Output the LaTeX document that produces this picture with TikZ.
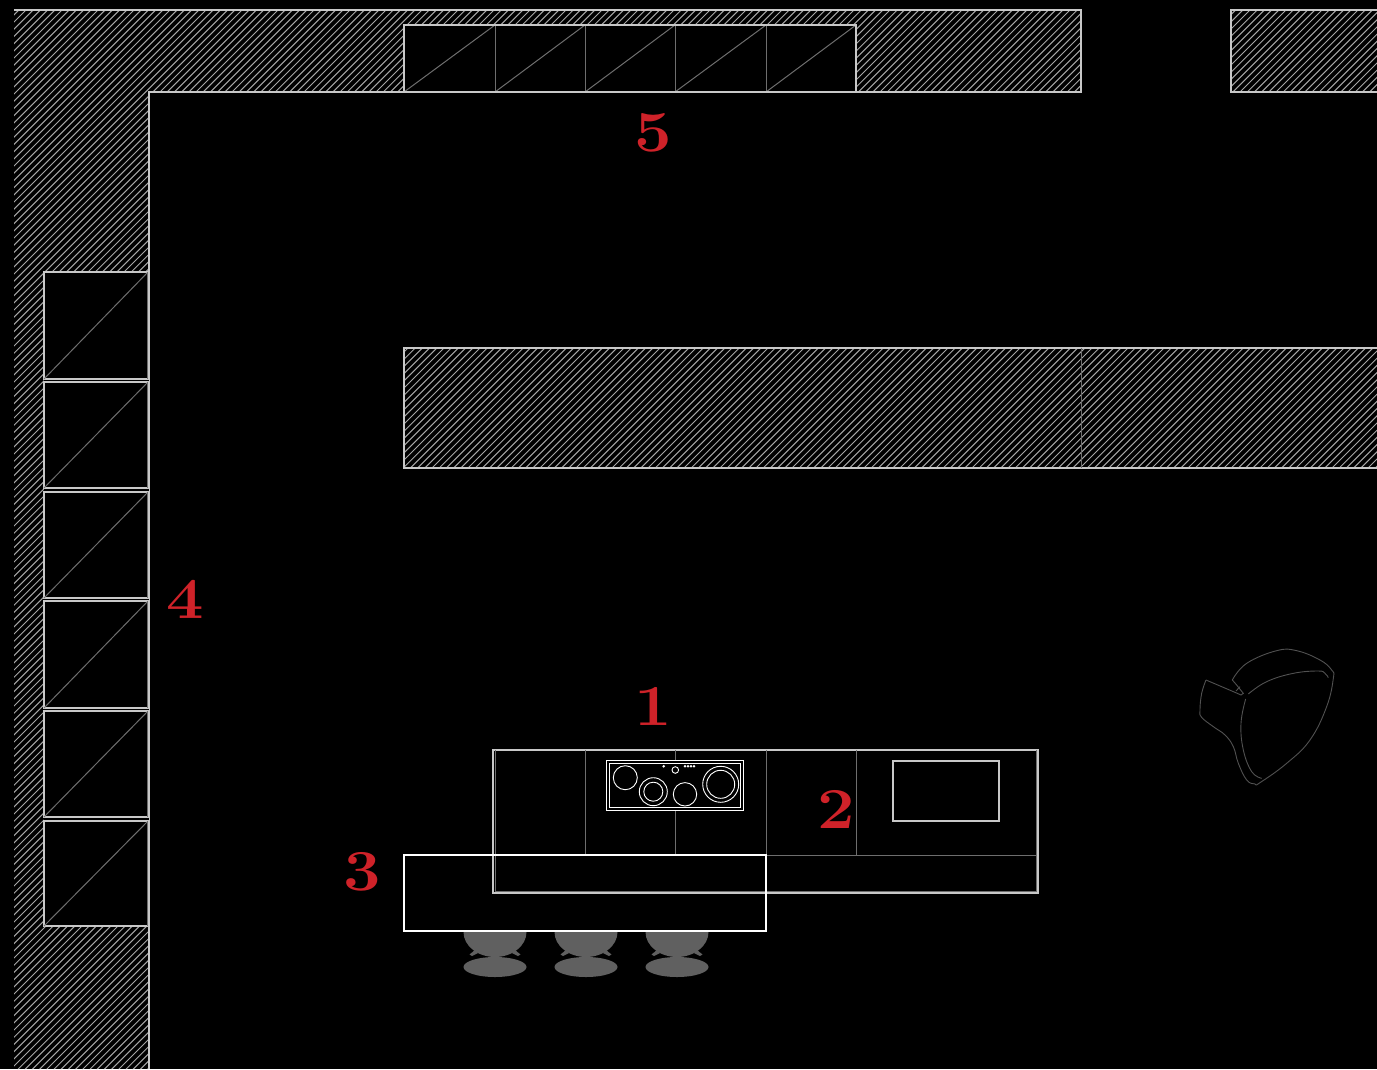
\documentclass[tikz,border=0pt]{standalone}
\definecolor{numred}{HTML}{CF2229}
\definecolor{hatchc}{HTML}{A6A6A6}
\definecolor{edgec}{HTML}{C8C8C8}
\definecolor{stoolc}{HTML}{606060}
\definecolor{thinc}{HTML}{6E6E6E}
\tikzset{
  edgeline/.style={draw=edgec,line width=1.15pt},
  cabinet/.style={draw=edgec,line width=1.1pt,fill=black},
  divline/.style={draw=thinc,line width=1pt},
  whiteline/.style={draw=white,line width=1.1pt},
  hobline/.style={draw=white,line width=.9pt},
  numlabel/.style={text=numred,font=\fontsize{58}{58}\selectfont\bfseries,inner sep=0pt,xscale=1.15},
  chairline/.style={draw=thinc!120,line width=.9pt}
}
\begin{document}
\begin{tikzpicture}[x=1pt,y=-1pt]
\useasboundingbox (0,0) rectangle (1377,1069);
\fill[black] (0,0) rectangle (1377,1069);
% hatch
\begin{scope}
\clip (14,10) -- (1081,10) -- (1081,92) -- (149,92) -- (149,1069) -- (14,1069) -- cycle
      (1231,10) rectangle (1377,92)
      (404,348) rectangle (1377,468);
\foreach \c in {0,7.2,...,2450} {\draw[hatchc,line width=1pt] (\c,0) -- (0,\c);}
\end{scope}
% wall outlines
\draw[edgeline] (14,10) -- (1081,10) -- (1081,92) -- (149,92) -- (149,1069);
\draw[edgeline] (1377,10) -- (1231,10) -- (1231,92) -- (1377,92);
\draw[edgeline] (1377,348) -- (404,348) -- (404,468) -- (1377,468);
\draw[divline] (1081,348) -- (1081,468);
% top cabinets
\draw[cabinet] (404,25) rectangle (856,92);
\foreach \a/\b in {404/495,495/585,585/675,675/766,766/856} {
  \draw[divline] (\a,92) -- (\b,25);
  \draw[divline] (\b,25) -- (\b,92);
}
\draw[edgeline] (404,25) -- (856,25) -- (856,92) -- (404,92) -- cycle;
% left cabinets
\fill[black] (44,272) rectangle (149,926);
\foreach \t/\b in {272/379,382/488,492/598,601/708,711/817,821/926} {
  \draw[cabinet] (44,\t) rectangle (149,\b);
  \draw[divline] (44,\b) -- (147,\t+1);
  \draw[divline] (147,\t) -- (147,\b);
}
% island
\draw[edgeline] (493,750) rectangle (1038,893);
\draw[divline] (495,750) -- (495,891) -- (1036,891) -- (1036,750);
\foreach \x in {585,675,766,856} {\draw[divline] (\x,750) -- (\x,855);}
\draw[divline] (766,855) -- (1036,855);
\draw[edgeline] (893,761) rectangle (999,821);
% table
\draw[whiteline] (404,855) rectangle (766,931);
% hob
\draw[hobline,fill=black] (606.7,760.7) rectangle (743.3,810.3);
\draw[hobline] (609.5,763.5) rectangle (740.5,807.5);
\draw[hobline] (625.3,777.7) circle (12);
\draw[hobline] (653.3,791.7) circle (14) (653.3,791.7) circle (9.5);
\draw[hobline] (685,794.3) circle (11.7);
\draw[hobline] (720.7,784.3) circle (18) (720.7,784.3) circle (14);
\draw[hobline] (675.3,770) circle (3.3);
\fill[white] (663.7,766.3) circle (1.4);
\foreach \x in {685,688,691,694} {\fill[white] (\x,766.3) circle (1.4);}
% stools
\foreach \x in {495,586,677} {
  \begin{scope}[shift={(\x,0)}]
  \fill[stoolc] (-31.5,932) arc[start angle=180,end angle=360,x radius=31.5,y radius=-25] -- cycle;
  \fill[stoolc] (-20,950) -- (-25.5,954.5) -- (-23,956) -- (-17,953) -- cycle;
  \fill[stoolc] (20,950) -- (25.5,954.5) -- (23,956) -- (17,953) -- cycle;
  \fill[stoolc] (0,967) ellipse[x radius=31.5,y radius=10];
  \end{scope}
}
% chair
\begin{scope}[shift={(1180,630)},x=.3333pt,y=-.3333pt]
\draw[chairline] plot[smooth,tension=.7] coordinates {(157,150) (200,100) (290,62) (350,62) (420,90) (455,120) (460,145) (440,230) (390,330) (320,400) (240,458) (225,462) (200,450) (175,400) (160,350) (135,315) (100,290) (65,262) (60,240) (65,190) (78,150)};
\draw[chairline] (78,150) -- (165,187) -- (183,195) -- (190,190) -- (170,165) -- (157,150);
\draw[chairline] plot[smooth,tension=.7] coordinates {(205,192) (260,155) (340,130) (415,123) (435,130) (445,143)};
\draw[chairline] plot[smooth,tension=.7] coordinates {(197,207) (183,280) (190,360) (215,425) (245,445)};
\draw[chairline] (168,183) -- (180,170);
\end{scope}
% numbers
\node[numlabel] (n1) at (653,706) {1};
\node[numlabel] (n2) at (836,809) {2};
\node[numlabel] (n3) at (362,872) {3};
\node[numlabel] (n4) at (185,599) {4};
\node[numlabel] (n5) at (653,133) {5};
\end{tikzpicture}
\end{document}
